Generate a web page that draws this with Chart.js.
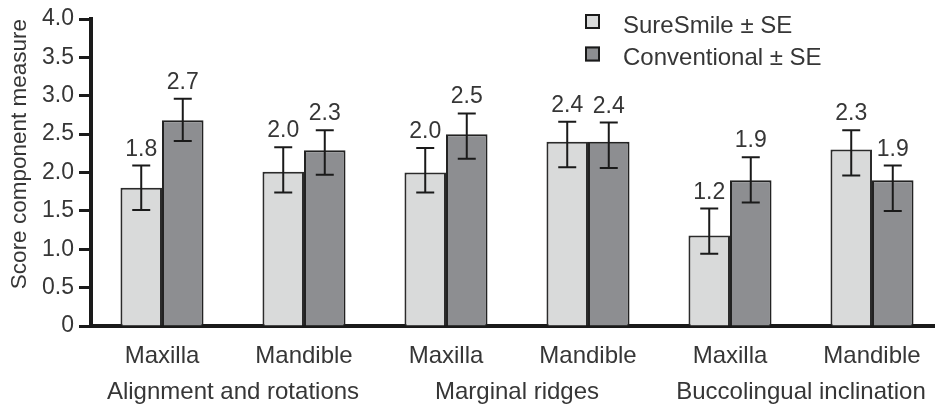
<!DOCTYPE html>
<html>
<head>
<meta charset="utf-8">
<script src="https://cdn.jsdelivr.net/npm/chart.js@4.4.1/dist/chart.umd.min.js"></script>
<style>
  html, body { margin: 0; padding: 0; background: #fff; overflow: hidden; }
  #wrap { width: 950px; height: 407px; }
</style>
</head>
<body>
<div id="wrap"><canvas id="scoreChart" width="950" height="407"></canvas></div>
<script>
// categories
const jaws = ['Maxilla', 'Mandible', 'Maxilla', 'Mandible', 'Maxilla', 'Mandible'];
const components = ['Alignment and rotations', 'Marginal ridges', 'Buccolingual inclination'];
const yTickLabels = ['0', '0.5', '1.0', '1.5', '2.0', '2.5', '3.0', '3.5', '4.0'];

// means
const sureSmile = [1.80, 2.01, 2.00, 2.40, 1.18, 2.30];
const conventional = [2.68, 2.29, 2.50, 2.40, 1.90, 1.90];

// error bar ends (mean ± SE)
const sureSmileHigh = [2.09, 2.33, 2.32, 2.66, 1.53, 2.55];
const sureSmileLow = [1.51, 1.74, 1.74, 2.07, 0.94, 1.96];
const conventionalHigh = [2.96, 2.55, 2.77, 2.65, 2.20, 2.09];
const conventionalLow = [2.41, 1.97, 2.18, 2.06, 1.61, 1.50];

const errHigh = [sureSmileHigh, conventionalHigh];
const errLow = [sureSmileLow, conventionalLow];

const FONT = "'Liberation Sans', Arial, Helvetica, sans-serif";
const TEXT = '#363636';
const INK = '#1a1a1a';

// error bars + value labels
const errorBars = {
  id: 'errorBars',
  afterDatasetsDraw(chart) {
    const ctx = chart.ctx;
    const y = chart.scales.y;
    ctx.save();
    chart.data.datasets.forEach((ds, d) => {
      const meta = chart.getDatasetMeta(d);
      meta.data.forEach((bar, i) => {
        const top = y.getPixelForValue(errHigh[d][i]);
        const bot = y.getPixelForValue(errLow[d][i]);
        ctx.strokeStyle = INK;
        ctx.lineWidth = 2;
        ctx.beginPath();
        ctx.moveTo(bar.x, top);
        ctx.lineTo(bar.x, bot);
        ctx.moveTo(bar.x - 9, top);
        ctx.lineTo(bar.x + 9, top);
        ctx.moveTo(bar.x - 9, bot);
        ctx.lineTo(bar.x + 9, bot);
        ctx.stroke();

        ctx.fillStyle = TEXT;
        ctx.font = '23px ' + FONT;
        ctx.textAlign = 'center';
        ctx.textBaseline = 'alphabetic';
        ctx.fillText(ds.data[i].toFixed(1), bar.x, top - 10);
      });
    });
    ctx.restore();
  }
};

// legend in the upper right
const boxLegend = {
  id: 'boxLegend',
  afterDraw(chart) {
    const ctx = chart.ctx;
    ctx.save();
    chart.data.datasets.forEach((ds, d) => {
      const by = 14 + d * 32.5;
      ctx.fillStyle = ds.backgroundColor;
      ctx.fillRect(585, by, 15, 15);
      ctx.strokeStyle = INK;
      ctx.lineWidth = 2;
      ctx.strokeRect(586, by + 1, 13, 13);
      ctx.fillStyle = TEXT;
      ctx.font = '24px ' + FONT;
      ctx.textAlign = 'left';
      ctx.textBaseline = 'alphabetic';
      ctx.fillText(ds.label, 623, 33 + d * 32);
    });
    ctx.restore();
  }
};

new Chart(document.getElementById('scoreChart'), {
  type: 'bar',
  data: {
    labels: jaws,
    datasets: [
      {
        label: 'SureSmile ± SE',
        data: sureSmile,
        backgroundColor: '#d9dada',
        borderColor: '#2b2b2b',
        borderWidth: 2
      },
      {
        label: 'Conventional ± SE',
        data: conventional,
        backgroundColor: '#8d8e91',
        borderColor: '#222',
        borderWidth: 2
      }
    ]
  },
  options: {
    responsive: false,
    animation: false,
    events: [],
    layout: { padding: { top: 19, right: 7, left: 0, bottom: 0 } },
    datasets: { bar: { barPercentage: 1, categoryPercentage: 0.585 } },
    plugins: {
      legend: { display: false },
      tooltip: { enabled: false }
    },
    scales: {
      x: {
        position: 'bottom',
        grid: { display: false, drawTicks: false },
        border: { display: true, color: INK, width: 4 },
        ticks: { color: TEXT, font: { family: FONT, size: 24 }, padding: 16, maxRotation: 0, autoSkip: false },
        afterFit(scale) { scale.height = 44; }
      },
      x2: {
        type: 'category',
        labels: components,
        position: 'bottom',
        grid: { display: false, drawTicks: false },
        border: { display: false },
        ticks: { color: TEXT, font: { family: FONT, size: 24 }, padding: 8, maxRotation: 0, autoSkip: false },
        afterFit(scale) { scale.height = 37; }
      },
      y: {
        min: 0,
        max: 4,
        grid: { drawOnChartArea: false, drawTicks: true, tickLength: 12, tickWidth: 3, tickColor: INK },
        border: { display: true, color: INK, width: 4 },
        ticks: {
          stepSize: 0.5,
          autoSkip: false,
          padding: 5,
          color: TEXT,
          font: { family: FONT, size: 23 },
          callback: (v, i) => yTickLabels[i]
        },
        title: {
          display: true,
          text: 'Score component measure',
          align: 'end',
          color: TEXT,
          font: { family: FONT, size: 22.5 },
          padding: { top: 6, bottom: 0 }
        },
        afterFit(scale) { scale.width = 91; }
      }
    }
  },
  plugins: [errorBars, boxLegend]
});
</script>
</body>
</html>
